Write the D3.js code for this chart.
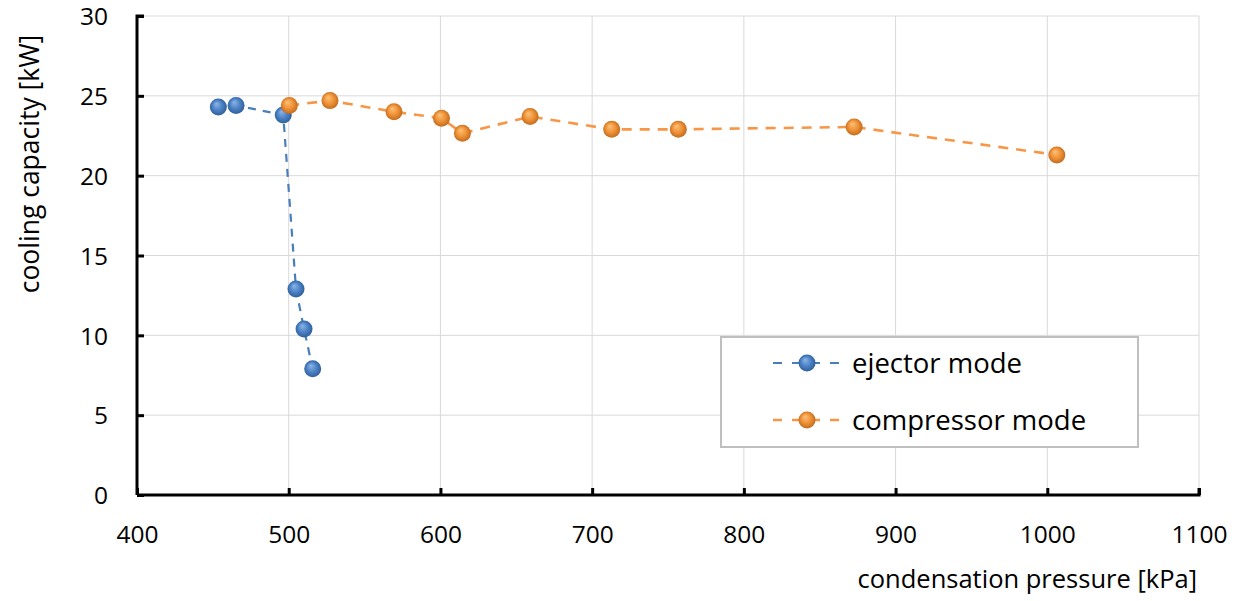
<!DOCTYPE html>
<html>
<head>
<meta charset="utf-8">
<script src="https://cdn.jsdelivr.net/npm/d3@7"></script>
<style>
  body { margin: 0; background: #fff; }
  svg text { font-family: "Open Sans", "Noto Sans", sans-serif; fill: #000; }
</style>
</head>
<body>
<div id="chart"></div>
<script>
// ejector mode: condensation pressure [kPa] and cooling capacity [kW]
const ejectorPressure = [453.6, 465.3, 496.4, 504.8, 510.1, 515.8];
const ejectorCapacity = [24.3, 24.4, 23.8, 12.9, 10.4, 7.9];
// compressor mode
const compressorPressure = [500.4, 527.2, 569.4, 600.7, 614.5, 659.1, 712.9, 756.8, 872.7, 1006.3];
const compressorCapacity = [24.4, 24.7, 24.0, 23.6, 22.65, 23.7, 22.9, 22.9, 23.05, 21.3];

const xTicks = [400, 500, 600, 700, 800, 900, 1000, 1100];
const yTicks = [0, 5, 10, 15, 20, 25, 30];
const seriesNames = ["ejector mode", "compressor mode"];

const width = 1240, height = 601;
const margin = {top: 16, right: 41, bottom: 106, left: 137};

const svg = d3.select("#chart").append("svg")
  .attr("width", width)
  .attr("height", height);

const x = d3.scaleLinear().domain([400, 1100]).range([margin.left, width - margin.right]);
const y = d3.scaleLinear().domain([0, 30]).range([height - margin.bottom, margin.top]);

// sphere-like gradients
const defs = svg.append("defs");
const makeGrad = (id, light, mid, dark) => {
  const g = defs.append("radialGradient").attr("id", id)
    .attr("cx", "50%").attr("cy", "50%").attr("r", "55%")
    .attr("fx", "38%").attr("fy", "30%");
  g.append("stop").attr("offset", "0%").attr("stop-color", light);
  g.append("stop").attr("offset", "55%").attr("stop-color", mid);
  g.append("stop").attr("offset", "100%").attr("stop-color", dark);
};
makeGrad("gBlue", "#8db6e8", "#4a80c4", "#2c5a91");
makeGrad("gOrange", "#fcc27a", "#ee9035", "#b9661c");

// gridlines
svg.append("g")
  .selectAll("line")
  .data(xTicks.slice(1))
  .join("line")
    .attr("x1", d => x(d)).attr("x2", d => x(d))
    .attr("y1", y(30)).attr("y2", y(0))
    .attr("stroke", "#d9d9d9").attr("stroke-width", 1);
svg.append("g")
  .selectAll("line")
  .data(yTicks.slice(1))
  .join("line")
    .attr("x1", x(400)).attr("x2", x(1100))
    .attr("y1", d => y(d)).attr("y2", d => y(d))
    .attr("stroke", "#d9d9d9").attr("stroke-width", 1);

// axes with inward ticks
const xAxis = svg.append("g")
  .attr("transform", `translate(0,${y(0)})`)
  .call(d3.axisBottom(x).tickValues(xTicks).tickFormat(d3.format("d")).tickSizeInner(-7).tickSizeOuter(0));
const yAxis = svg.append("g")
  .attr("transform", `translate(${x(400)},0)`)
  .call(d3.axisLeft(y).tickValues(yTicks).tickSizeInner(-7).tickSizeOuter(0));

[xAxis, yAxis].forEach(ax => {
  ax.attr("font-family", null).attr("font-size", null);
  ax.select(".domain").attr("stroke", "#000").attr("stroke-width", 3);
  ax.selectAll(".tick line").attr("stroke", "#000").attr("stroke-width", 3);
  ax.selectAll(".tick text")
    .attr("font-size", 24.5).attr("fill", "#000");
});
xAxis.selectAll(".tick text").attr("y", 48).attr("dy", 0);
yAxis.selectAll(".tick text").attr("x", -29).attr("dy", "0.36em");
// axis end caps like the original
yAxis.select(".domain").attr("d", `M7,${y(30)}H0V${y(0)}`);
xAxis.select(".domain").attr("d", `M${x(400)},0H${x(1100)}V-7`);

// axis titles
svg.append("text")
  .attr("x", x(1100) - 2).attr("y", 588)
  .attr("text-anchor", "end")
  .attr("font-size", 25.5)
  .text("condensation pressure [kPa]");
svg.append("text")
  .attr("transform", `translate(39,${y(30) + 148}) rotate(-90)`)
  .attr("text-anchor", "middle")
  .attr("font-size", 26.5)
  .text("cooling capacity [kW]");

const series = [
  {name: seriesNames[0], xs: ejectorPressure, ys: ejectorCapacity, color: "#4a7ebb", grad: "url(#gBlue)", w: 2.2, dash: "8,7"},
  {name: seriesNames[1], xs: compressorPressure, ys: compressorCapacity, color: "#f79646", grad: "url(#gOrange)", w: 2.6, dash: "10,8"}
];

const line = d3.line().x(d => x(d[0])).y(d => y(d[1]));

series.forEach(s => {
  const pts = s.xs.map((v, i) => [v, s.ys[i]]);
  svg.append("path")
    .datum(pts)
    .attr("d", line)
    .attr("fill", "none")
    .attr("stroke", s.color)
    .attr("stroke-width", s.w)
    .attr("stroke-dasharray", s.dash);
  svg.append("g")
    .selectAll("circle")
    .data(pts)
    .join("circle")
      .attr("cx", d => x(d[0]))
      .attr("cy", d => y(d[1]))
      .attr("r", 8.5)
      .attr("fill", s.grad);
});

// legend
const legend = svg.append("g");
legend.append("rect")
  .attr("x", 721).attr("y", 337)
  .attr("width", 417).attr("height", 110)
  .attr("fill", "#fff")
  .attr("stroke", "#bfbfbf").attr("stroke-width", 2);

series.forEach((s, i) => {
  const ly = 363 + i * 57;
  legend.append("line")
    .attr("x1", 773).attr("x2", 841)
    .attr("y1", ly).attr("y2", ly)
    .attr("stroke", s.color).attr("stroke-width", s.w)
    .attr("stroke-dasharray", "9,10");
  legend.append("circle")
    .attr("cx", 807).attr("cy", ly).attr("r", 8.5)
    .attr("fill", s.grad);
  legend.append("text")
    .attr("x", 852).attr("y", ly)
    .attr("dy", "0.35em")
    .attr("font-size", 27.5)
    .text(s.name);
});
</script>
</body>
</html>
